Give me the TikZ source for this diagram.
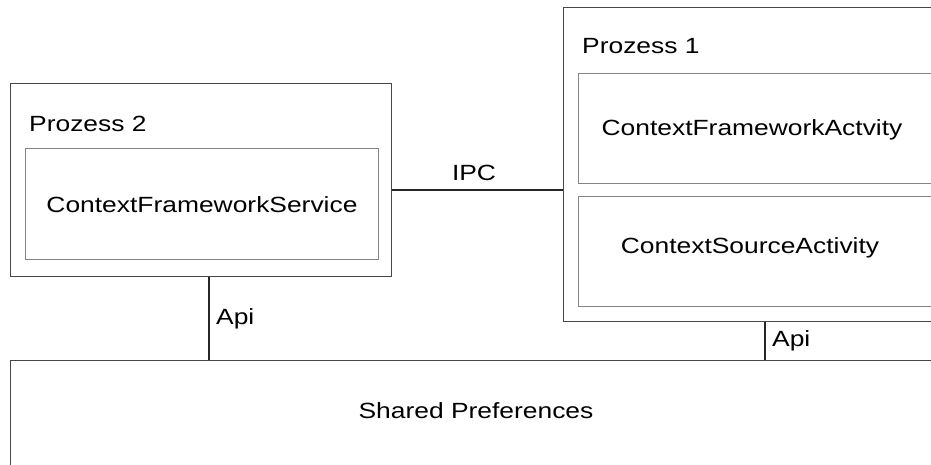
\documentclass[tikz,border=0pt]{standalone}
\usepackage{fontspec}
\setmainfont{Liberation Sans}[FakeStretch=1.2]
\begin{document}
\begin{tikzpicture}[x=1pt,y=-1pt,
  outerbox/.style={draw=black!72, line width=1.1pt, anchor=north west, inner sep=0pt},
  innerbox/.style={draw=black!48, line width=1.1pt, anchor=north west, inner sep=0pt},
  lbl/.style={font=\fontsize{22}{26}\selectfont, inner sep=0pt},
  link/.style={draw=black!85, line width=1.1pt}]
\useasboundingbox (0,0) rectangle (931,464);
\fill[white] (0,0) rectangle (931,464);

% Prozess 2
\node[outerbox, minimum width=381, minimum height=193] (p2) at (10,83) {};
\node[lbl, anchor=west] (p2t) at (29,124) {Prozess 2};
\node[innerbox, minimum width=353, minimum height=111] (cfs) at (25,148) {};
\node[lbl] (cfst) at (202,205) {ContextFrameworkService};

% Prozess 1 (runs past the right edge)
\node[outerbox, minimum width=420, minimum height=314] (p1) at (563,7) {};
\node[lbl, anchor=west] (p1t) at (582,46) {Prozess 1};
\node[innerbox, minimum width=400, minimum height=110] (cfa) at (578,73) {};
\node[lbl] (cfat) at (752,130) {ContextFrameworkActvity};
\node[innerbox, minimum width=400, minimum height=110] (csa) at (578,196) {};
\node[lbl] (csat) at (750,248) {ContextSourceActivity};

% Shared Preferences (runs past the right and bottom edges)
\node[outerbox, minimum width=1000, minimum height=150] (sp) at (10,360) {};
\node[lbl] (spt) at (476,411) {Shared Preferences};

% Connectors
\coordinate (ipc) at (0,190);
\draw[link] (p2.east |- ipc) -- (p1.west |- ipc);
\node[lbl] (ipct) at (474,173) {IPC};

\coordinate (apiL) at (209,0);
\draw[link] (apiL |- p2.south) -- (apiL |- sp.north);
\node[lbl, anchor=west] (apiLt) at (216,319) {Api};

\coordinate (apiR) at (765,0);
\draw[link] (apiR |- p1.south) -- (apiR |- sp.north);
\node[lbl, anchor=west] (apiRt) at (772,341) {Api};
\end{tikzpicture}
\end{document}
